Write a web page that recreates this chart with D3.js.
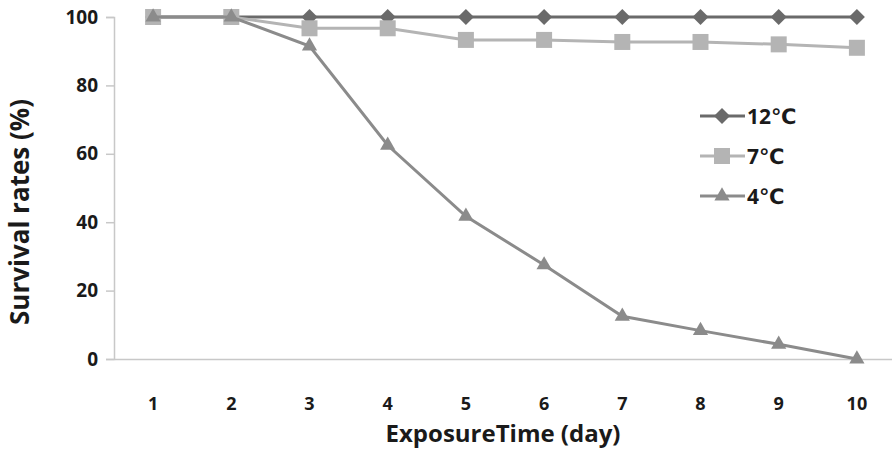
<!DOCTYPE html>
<html>
<head>
<meta charset="utf-8">
<script src="https://cdn.jsdelivr.net/npm/d3@7"></script>
<style>
  body { margin: 0; background: #fff; }
  text { font-family: "Open Sans", "DejaVu Sans", sans-serif; font-weight: bold; fill: #1a1a1a; }
</style>
</head>
<body>
<div id="chart"></div>
<script>
// Survival rates by exposure time
const days = [1, 2, 3, 4, 5, 6, 7, 8, 9, 10];
const rate12 = [100, 100, 100, 100, 100, 100, 100, 100, 100, 100];
const rate7 = [100, 100, 96.7, 96.7, 93.3, 93.3, 92.7, 92.7, 92.0, 91.0];
const rate4 = [100, 100, 91.5, 62.5, 41.7, 27.5, 12.5, 8.3, 4.3, 0];
const yTicks = [0, 20, 40, 60, 80, 100];

// Excel-style square-ish diamond marker
const symbolDiamondSq = {
    draw(context, size) {
        const r = Math.sqrt(size) / 2;
        context.moveTo(0, -r);
        context.lineTo(r, 0);
        context.lineTo(0, r);
        context.lineTo(-r, 0);
        context.closePath();
    }
};

function drawChart() {
    const width = 892, height = 449;
    const margin = {top: 17, right: -4, bottom: 90, left: 114};
    const innerW = width - margin.left - margin.right;
    const innerH = height - margin.top - margin.bottom;

    const svg = d3.select("#chart").append("svg")
        .attr("width", width)
        .attr("height", height);

    const g = svg.append("g")
        .attr("transform", `translate(${margin.left},${margin.top})`);

    const x = d3.scaleBand()
        .domain(days)
        .range([0, innerW]);

    const y = d3.scaleLinear()
        .domain([0, 100])
        .range([innerH, 0]);

    // Y axis
    const yAxis = g.append("g")
        .call(d3.axisLeft(y).tickValues(yTicks).tickSize(8).tickPadding(8));
    yAxis.select(".domain").attr("stroke", "#c8c8c8").attr("stroke-width", 1.5);
    yAxis.selectAll(".tick line").attr("stroke", "#c8c8c8").attr("stroke-width", 1.5);
    yAxis.selectAll("text").style("font-size", "19px").attr("fill", "#1a1a1a");

    // X axis
    const xAxis = g.append("g")
        .attr("transform", `translate(0,${innerH})`)
        .call(d3.axisBottom(x).tickSize(0).tickPadding(38));
    xAxis.select(".domain").attr("stroke", "#c8c8c8").attr("stroke-width", 1.5);
    xAxis.selectAll("text").style("font-size", "18px").attr("fill", "#1a1a1a");

    // Axis titles
    svg.append("text")
        .attr("transform", "rotate(-90)")
        .attr("x", -212)
        .attr("y", 29)
        .attr("text-anchor", "middle")
        .style("font-size", "26px")
        .text("Survival rates (%)");

    svg.append("text")
        .attr("x", 503)
        .attr("y", 442)
        .attr("text-anchor", "middle")
        .style("font-size", "24px")
        .text("ExposureTime (day)");

    const series = [
        {name: "12\u2103", values: rate12, color: "#6a6a6a", symbol: symbolDiamondSq, size: 256},
        {name: "7\u2103", values: rate7, color: "#b4b4b4", symbol: d3.symbolSquare, size: 256},
        {name: "4\u2103", values: rate4, color: "#8b8b8b", symbol: d3.symbolTriangle, size: 100}
    ];

    const line = d3.line()
        .x((d, i) => x(days[i]) + x.bandwidth() / 2)
        .y(d => y(d));

    series.forEach(s => {
        g.append("path")
            .datum(s.values)
            .attr("fill", "none")
            .attr("stroke", s.color)
            .attr("stroke-width", 3)
            .attr("d", line);

        g.selectAll(null)
            .data(s.values)
            .enter()
            .append("path")
            .attr("transform", (d, i) => `translate(${x(days[i]) + x.bandwidth() / 2},${y(d)})`)
            .attr("d", d3.symbol().type(s.symbol).size(s.size))
            .attr("fill", s.color);
    });

    // Legend
    const legend = svg.append("g")
        .attr("transform", "translate(700,116)");

    series.forEach((s, i) => {
        const row = legend.append("g").attr("transform", `translate(0,${i * 40})`);
        row.append("line")
            .attr("x1", 0).attr("x2", 45)
            .attr("stroke", s.color)
            .attr("stroke-width", 3);
        row.append("path")
            .attr("transform", "translate(22,0)")
            .attr("d", d3.symbol().type(s.symbol).size(s.size))
            .attr("fill", s.color);
        row.append("text")
            .attr("x", 47)
            .attr("y", 8)
            .style("font-size", "21px")
            .text(s.name);
    });
}

document.addEventListener("DOMContentLoaded", drawChart);
</script>
</body>
</html>
